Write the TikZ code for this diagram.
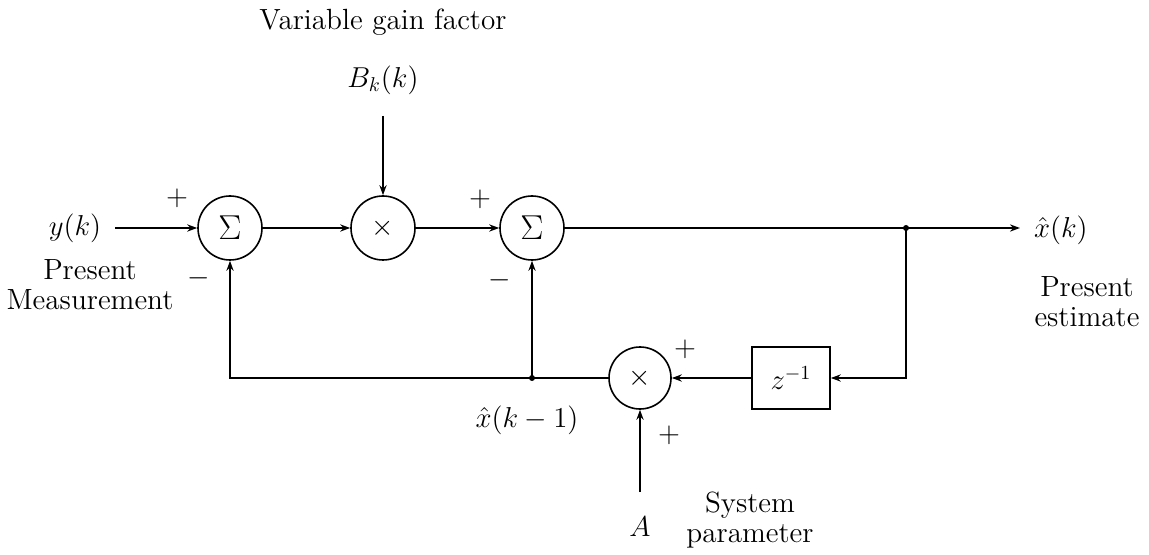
\documentclass[tikz,border=0pt]{standalone}
\usetikzlibrary{arrows.meta}
\newcommand\mydiafont{\fontsize{14.6}{15}\selectfont}
\begin{document}
\begin{tikzpicture}[x=0.5pt,y=-0.5pt,
  every node/.style={font=\mydiafont},
  wire/.style={line width=0.8pt},
  arr/.style={wire,-{Stealth[length=5pt,width=3.6pt]}},
  opnode/.style={circle,draw,line width=0.8pt,minimum size=32pt,inner sep=0pt},
  boxnode/.style={rectangle,draw,line width=0.8pt,minimum width=39pt,minimum height=31pt,inner sep=0pt},
  dot/.style={circle,fill,inner sep=0pt,minimum size=3pt},
  lbl/.style={inner sep=1pt}]
\useasboundingbox (0,0) rectangle (1149,555);

% operator nodes
\node[opnode] (s1) at (230,228) {\fontsize{18}{18}\selectfont$\Sigma$};
\node[opnode] (m1) at (383,228) {$\times$};
\node[opnode] (s2) at (532,228) {\fontsize{18}{18}\selectfont$\Sigma$};
\node[opnode,minimum size=31pt] (m2) at (640,378) {$\times$};
\node[boxnode] (z) at (791,378) {$z^{-1}$};

% inputs / outputs
\node (y) at (75,228) {$y(k)$};
\node (B) at (383,80) {$B_k(k)$};
\node (A) at (640,527) {$A$};
\node[anchor=west] (xk) at (1027,230) {$\hat{x}(k)$};
\node (xk1) at (527,420) {$\hat{x}(k-1)$};

% text labels
\node (vgf) at (383,22) {Variable gain factor};
\node[align=center] (pm) at (90,285) {Present\\Measurement};
\node[align=center] (pe) at (1087,302) {Present\\estimate};
\node[align=center] (sp) at (750,520) {System\\parameter};

% signs
\node[lbl] (p1) at (177,198) {$+$};
\node[lbl] (n1) at (199,278) {$-$};
\node[lbl] (p2) at (480,199) {$+$};
\node[lbl] (n2) at (500,280) {$-$};
\node[lbl] (p3) at (685,349) {$+$};
\node[lbl] (p4) at (669,435) {$+$};

% junctions
\node[dot] (jo) at (906,228) {};
\node[dot] (jf) at (532,378) {};
\coordinate (cr) at (906,378);
\coordinate (cl) at (230,378);
\coordinate (yend) at (115,228);
\coordinate (bstart) at (383,116);
\coordinate (astart) at (640,492);
\coordinate (oend) at (1020,228);

% connectors
\draw[arr] (yend) -- (s1.west);
\draw[arr] (s1.east) -- (m1.west);
\draw[arr] (bstart) -- (m1.north);
\draw[arr] (m1.east) -- (s2.west);
\draw[wire] (s2.east) -- (jo.center);
\draw[arr] (jo.center) -- (oend);
\draw[arr] (jo.center) -- (cr) -- (z.east);
\draw[arr] (z.west) -- (m2.east);
\draw[arr] (astart) -- (m2.south);
\draw[wire] (m2.west) -- (jf.center);
\draw[arr] (jf.center) -- (cl) -- (s1.south);
\draw[arr] (jf.center) -- (s2.south);
\end{tikzpicture}
\end{document}
